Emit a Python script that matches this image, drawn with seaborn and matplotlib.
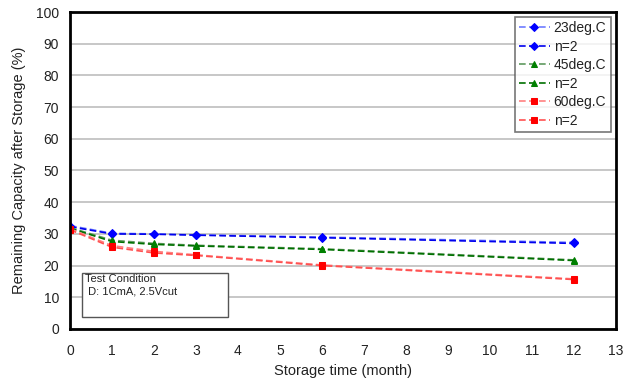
import matplotlib
matplotlib.use("Agg")
import matplotlib.pyplot as plt
import seaborn as sns
import pandas as pd
from matplotlib.patches import Rectangle

months = [0, 1, 2, 3, 6, 12]
series_names = ["23deg.C", "n=2", "45deg.C", "n=2 ", "60deg.C", "n=2  "]
cap_23a = [32.6, 30.2, 30.0, 29.7, 29.0, 27.3]
cap_23b = [32.3, 30.0, 29.9, 29.6, 28.8, 27.0]
cap_45a = [32.0, 28.0, 27.0, 26.4, 25.3, 21.8]
cap_45b = [31.8, 27.6, 26.7, 26.2, 25.1, 21.6]
cap_60a = [31.6, 26.3, 24.5, 23.4, 20.2, 15.8]
cap_60b = [31.3, 25.8, 24.0, 23.2, 20.0, 15.6]
values = [cap_23a, cap_23b, cap_45a, cap_45b, cap_60a, cap_60b]
colors = ["#6e7cff", "#0000ee", "#5f9a5f", "#007000", "#ff8080", "#ff5050"]
marker_colors = ["#0000ff", "#0000ff", "#008000", "#008000", "#ff0000", "#ff0000"]
markers = ["D", "D", "^", "^", "s", "s"]
msizes = [4, 4, 5, 5, 5, 5]

sns.set_theme(style="white")
plt.rcParams["font.family"] = ["Liberation Sans", "DejaVu Sans"]

fig = plt.figure(figsize=(6.25, 3.81), dpi=100)
ax = fig.add_axes([0.112, 0.1365, 0.8736, 0.832])

for name, vals, c, mc, m, ms in zip(series_names, values, colors, marker_colors, markers, msizes):
    df = pd.DataFrame({"month": months, "cap": vals})
    sns.lineplot(data=df, x="month", y="cap", ax=ax, color=c, linestyle=(0, (4, 2)),
                 linewidth=1.2, marker=m, markersize=ms, markerfacecolor=mc,
                 markeredgecolor=mc, label=name.strip())

ax.set_xlim(0, 13)
ax.set_ylim(0, 100)
ax.set_xticks(range(0, 14))
ax.set_yticks(range(0, 101, 10))
ax.yaxis.grid(True, color="#bdbdbd", linewidth=1.2)
ax.set_axisbelow(True)
for s in ax.spines.values():
    s.set_color("black")
    s.set_linewidth(2)
ax.tick_params(axis="x", direction="in", length=3, width=0.8, colors="#999999",
               labelcolor="#222222", labelsize=10, pad=11)
ax.tick_params(axis="y", length=0, labelcolor="#222222", labelsize=10, pad=8)
ax.set_xlabel("Storage time (month)", fontsize=10.5, color="#222222", labelpad=4)
ax.set_ylabel("Remaining Capacity after Storage (%)", fontsize=10.5, color="#222222", labelpad=7)

leg = ax.legend(loc="upper right", bbox_to_anchor=(0.99, 0.985), frameon=True, fancybox=False,
                fontsize=10, handlelength=2.2, borderpad=0.3, labelspacing=0.33,
                handletextpad=0.3, borderaxespad=0.0)
leg.get_frame().set_edgecolor("#555555")
leg.get_frame().set_linewidth(1.2)
for t in leg.get_texts():
    t.set_color("#222222")

rect = Rectangle((0.022, 0.038), 0.267, 0.139, transform=ax.transAxes,
                 facecolor="white", edgecolor="#555555", linewidth=1, zorder=5)
ax.add_patch(rect)
ax.text(0.028, 0.172, "Test Condition\n D: 1CmA, 2.5Vcut", transform=ax.transAxes,
        fontsize=8, va="top", ha="left", color="#222222", zorder=6, linespacing=1.2)

fig.savefig("out.png", dpi=100)
